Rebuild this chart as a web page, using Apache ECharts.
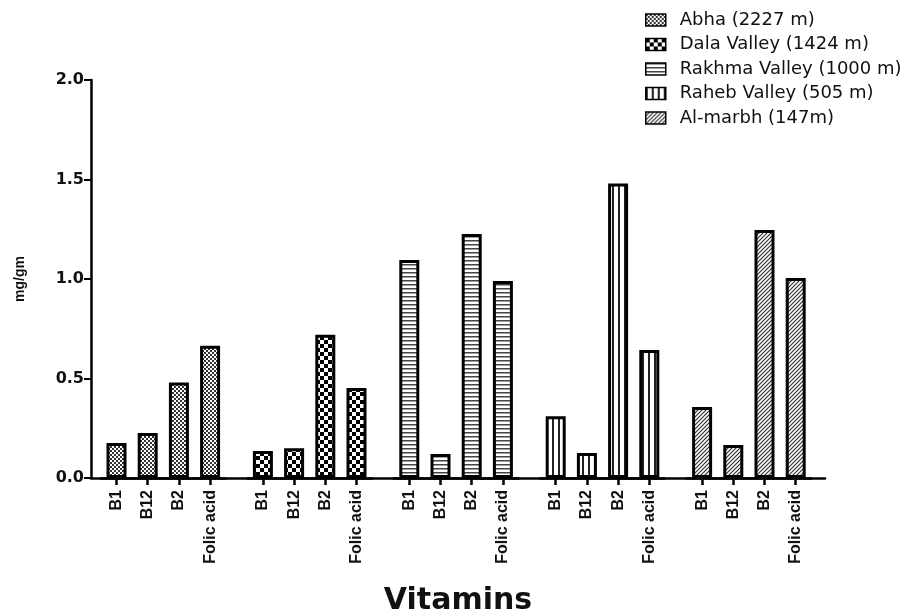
<!DOCTYPE html>
<html>
<head>
<meta charset="utf-8">
<script src="https://cdn.jsdelivr.net/npm/echarts@6/dist/echarts.min.js"></script>
<style>html,body{margin:0;padding:0;background:#fff}#c{width:921px;height:616px}</style>
</head>
<body>
<div id="c"></div>
<script>
// ---- data ----
var categories = ['B1', 'B12', 'B2', 'Folic acid'];
var seriesNames = ['Abha (2227 m)', 'Dala Valley (1424 m)', 'Rakhma Valley (1000 m)', 'Raheb Valley (505 m)', 'Al-marbh (147m)'];
var abha = [0.176, 0.226, 0.48, 0.665];
var dala = [0.136, 0.15, 0.72, 0.452];
var rakhma = [1.095, 0.12, 1.226, 0.99];
var raheb = [0.31, 0.126, 1.48, 0.643];
var almarbh = [0.357, 0.166, 1.246, 1.005];
var yTicks = [0, 0.5, 1.0, 1.5, 2.0];
var values = [abha, dala, rakhma, raheb, almarbh];

// ---- patterns ----
function makeCanvas(w, h, draw) {
  var c = document.createElement('canvas');
  c.width = w; c.height = h;
  var ctx = c.getContext('2d');
  ctx.fillStyle = '#fff'; ctx.fillRect(0, 0, w, h);
  draw(ctx);
  return { image: c, repeat: 'repeat' };
}
var patterns = [
  makeCanvas(4, 4, function (ctx) { ctx.fillStyle = '#333'; ctx.fillRect(0, 0, 2, 2); ctx.fillRect(2, 2, 2, 2); }),
  makeCanvas(8, 8, function (ctx) { ctx.fillStyle = '#000'; ctx.fillRect(0, 0, 4, 4); ctx.fillRect(4, 4, 4, 4); }),
  makeCanvas(4, 4, function (ctx) { ctx.fillStyle = '#444'; ctx.fillRect(0, 0, 4, 1.5); }),
  makeCanvas(6, 4, function (ctx) { ctx.fillStyle = '#222'; ctx.fillRect(0, 0, 2, 4); }),
  makeCanvas(4, 4, function (ctx) {
    ctx.strokeStyle = '#333'; ctx.lineWidth = 1.2;
    ctx.beginPath();
    ctx.moveTo(-1, 5); ctx.lineTo(5, -1);
    ctx.moveTo(-1, 1); ctx.lineTo(1, -1);
    ctx.moveTo(3, 5); ctx.lineTo(5, 3);
    ctx.stroke();
  })
];

// ---- layout ----
var plotTop = 80, plotBottom = 138;
var groupLeft0 = 100.9, groupPitch = 146.4, groupWidth = 124.8;

var grids = [{ left: 91, right: 96, top: plotTop, bottom: plotBottom, outerBoundsMode: 'none', containLabel: false }];
var xAxes = [{
  gridIndex: 0, type: 'category', data: [''],
  axisLine: { show: true, lineStyle: { color: '#000', width: 2.5 } },
  axisTick: { show: false }, axisLabel: { show: false },
  name: 'Vitamins', nameLocation: 'middle', nameGap: 108,
  nameTextStyle: { fontFamily: 'DejaVu Sans', fontWeight: 'bold', fontSize: 30, color: '#111' }
}];
var yAxes = [{
  gridIndex: 0, type: 'value', min: yTicks[0], max: yTicks[yTicks.length - 1], interval: 0.5,
  axisLine: { show: true, lineStyle: { color: '#000', width: 2.5 } },
  axisTick: { show: true, length: 7, lineStyle: { color: '#000', width: 2 } },
  axisLabel: { margin: 7, fontFamily: 'DejaVu Sans', fontWeight: 'bold', fontSize: 16, color: '#111',
    formatter: function (v) { return v.toFixed(1); } },
  splitLine: { show: false },
  name: 'mg/gm', nameLocation: 'middle', nameRotate: 90, nameGap: 64,
  nameTextStyle: { fontFamily: 'Liberation Sans', fontWeight: 'bold', fontSize: 14, color: '#111' }
}];
var series = [];
for (var k = 0; k < 5; k++) {
  grids.push({ left: groupLeft0 + groupPitch * k, width: groupWidth, top: plotTop, bottom: plotBottom, outerBoundsMode: 'none', containLabel: false });
  xAxes.push({
    gridIndex: k + 1, type: 'category', data: categories,
    axisLine: { show: true, lineStyle: { color: '#000', width: 2.5 } },
    axisTick: { show: true, alignWithLabel: true, interval: 0, length: 7, lineStyle: { color: '#000', width: 2.5 } },
    axisLabel: { rotate: 90, margin: 12, interval: 0, fontFamily: 'Liberation Sans', fontWeight: 'bold', fontSize: 16, color: '#111' }
  });
  yAxes.push({ gridIndex: k + 1, type: 'value', min: 0, max: 2, show: false, splitLine: { show: false } });
  series.push({
    name: seriesNames[k], type: 'bar', xAxisIndex: k + 1, yAxisIndex: k + 1,
    data: values[k], barWidth: 20,
    itemStyle: { color: patterns[k], borderColor: '#000', borderWidth: 3 },
    silent: true
  });
}

var chart = echarts.init(document.getElementById('c'), null, { renderer: 'canvas' });
chart.setOption({
  animation: false,
  grid: grids, xAxis: xAxes, yAxis: yAxes, series: series,
  legend: {
    data: seriesNames, orient: 'vertical', left: 640, top: 6,
    itemWidth: 20, itemHeight: 12, itemGap: 6.5, selectedMode: false,
    icon: 'rect',
    textStyle: { fontFamily: 'DejaVu Sans', fontSize: 18, color: '#111', padding: [0, 0, 0, 9] },
    itemStyle: { borderColor: '#000', borderWidth: 1.5 }
  }
});
</script>
</body>
</html>
